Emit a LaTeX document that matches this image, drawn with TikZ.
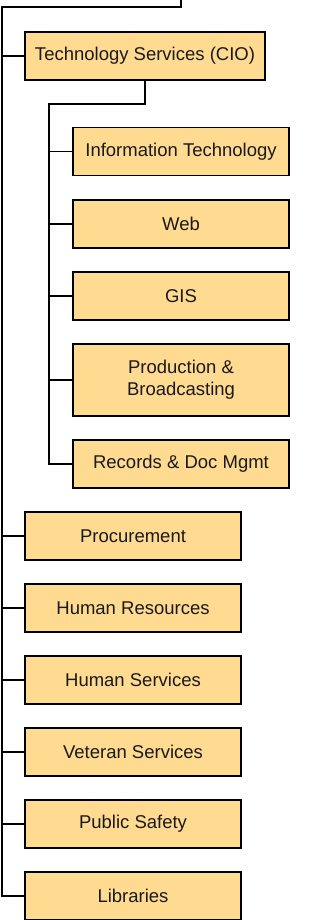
\documentclass[tikz,border=0pt]{standalone}
\usepackage{fontspec}
\setmainfont{Liberation Sans}
\definecolor{boxfill}{HTML}{FFDA91}
\definecolor{txt}{HTML}{1A1A1A}
\begin{document}
\begin{tikzpicture}[x=1pt,y=-1pt,
  box/.style={draw=black,line width=1.2pt,fill=boxfill,minimum height=48pt,inner sep=0pt,
    align=center,text=txt,font=\fontsize{18.5}{22}\selectfont},
  subbox/.style={box,minimum width=216pt},
  link/.style={draw=black,line width=1.2pt}]
\useasboundingbox (0,0) rectangle (325,920);
% nodes
\node[box,minimum width=240pt] (cio) at (145,56) {Technology Services (CIO)};
\node[subbox] (it) at (181,151.5) {Information Technology};
\node[subbox] (web) at (181,224) {Web};
\node[subbox] (gis) at (181,296) {GIS};
\node[subbox,minimum height=72pt] (prod) at (181,380) {Production \&\\Broadcasting};
\node[subbox] (rec) at (181,464) {Records \& Doc Mgmt};
\node[subbox] (proc) at (133,536) {Procurement};
\node[subbox] (hr) at (133,608) {Human Resources};
\node[subbox] (hs) at (133,680) {Human Services};
\node[subbox] (vet) at (133,752) {Veteran Services};
\node[subbox] (ps) at (133,824) {Public Safety};
\node[subbox] (lib) at (133,896) {Libraries};
% coordinates
\coordinate (top) at (181,0);
\coordinate (topc) at (181,7);
\coordinate (lefttop) at (2,7);
\coordinate (subc) at (145,104);
\coordinate (subl) at (49,104);
% main trunk
\draw[link] (top) -- (topc) -- (lefttop) |- (lib.west);
\foreach \n in {cio,proc,hr,hs,vet,ps}{\draw[link] (lefttop |- \n.west) -- (\n.west);}
% sub trunk
\draw[link] (cio.south) -- (subc) -- (subl) |- (rec.west);
\foreach \n in {it,web,gis,prod}{\draw[link] (subl |- \n.west) -- (\n.west);}
\end{tikzpicture}
\end{document}
